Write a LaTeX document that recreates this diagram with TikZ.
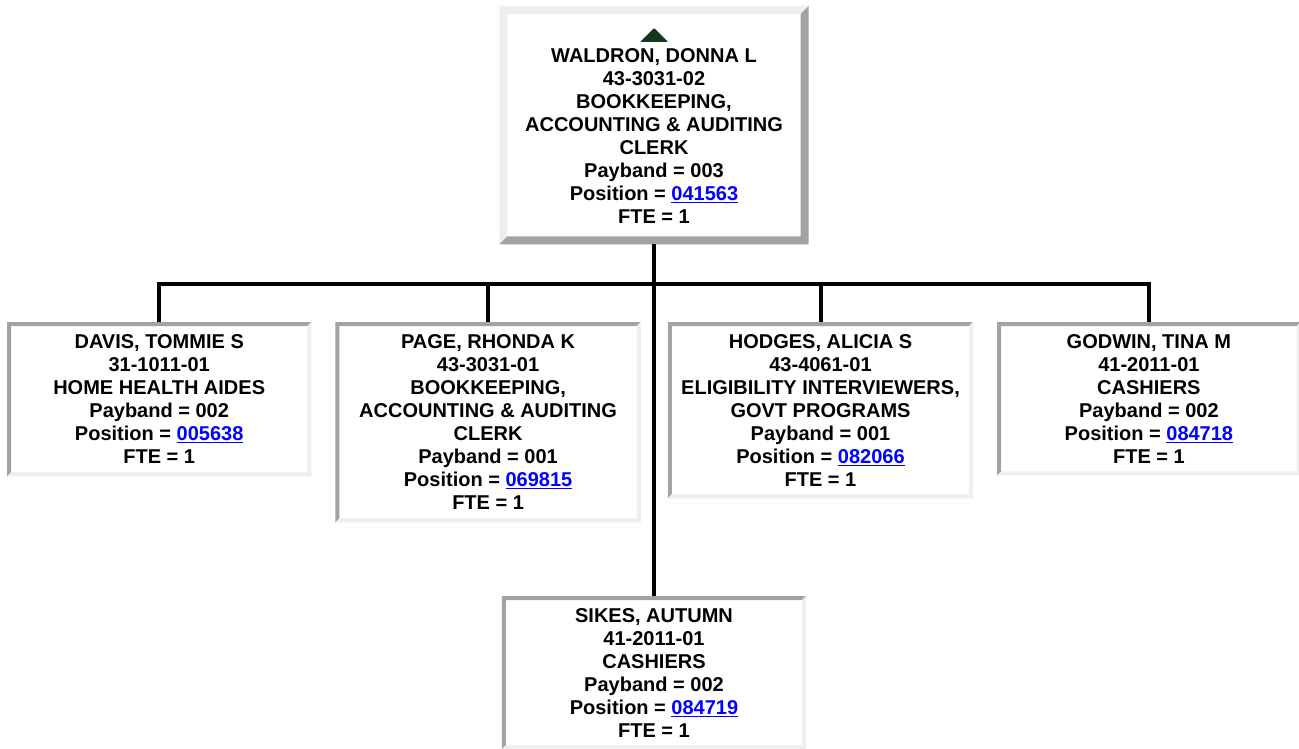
\documentclass[tikz,border=0pt]{standalone}
\usepackage{fontspec}
\setmainfont{Liberation Sans}
\usetikzlibrary{positioning, calc}
\definecolor{bevellight}{HTML}{EEEEEE}
\definecolor{beveldark}{HTML}{A3A3A3}
\definecolor{linkblue}{HTML}{0000FF}
\definecolor{marker}{HTML}{14361A}

% blue underlined position number
\newcommand{\poslink}[1]{\textcolor{linkblue}{\underline{#1}}}
% 3d frame: node, top/left colour, bottom/right colour, width
\newcommand{\bevelframe}[4]{%
  \fill[#2] (#1.south west) -- (#1.north west) -- (#1.north east)
    -- ([xshift=-#4,yshift=-#4]#1.north east) -- ([xshift=#4,yshift=-#4]#1.north west)
    -- ([xshift=#4,yshift=#4]#1.south west) -- cycle;
  \fill[#3] (#1.north east) -- (#1.south east) -- (#1.south west)
    -- ([xshift=#4,yshift=#4]#1.south west) -- ([xshift=-#4,yshift=#4]#1.south east)
    -- ([xshift=-#4,yshift=-#4]#1.north east) -- cycle;
}

\begin{document}
\begin{tikzpicture}[
    x=1pt, y=-1pt,
    font=\fontsize{20}{23}\selectfont\bfseries,
    orgbox/.style={
        fill=white, inner sep=0pt, align=center,
        minimum width=304pt, minimum height=154pt
    },
    topbox/.style={orgbox, minimum width=309pt, minimum height=238pt},
    orgline/.style={line width=4pt, black},
]

\useasboundingbox[fill=white] (0,0) rectangle (1299,749);

% === Supervisor ===
\node[topbox, anchor=north] (waldron) at (654,6) {\rule{0pt}{12pt}\\
    WALDRON, DONNA L\\ 43-3031-02\\ BOOKKEEPING,\\ ACCOUNTING \& AUDITING\\ CLERK\\
    Payband = 003\\ Position = \poslink{041563}\\ FTE = 1};
\bevelframe{waldron}{bevellight}{beveldark}{8pt}
\fill[marker, rounded corners=1pt] ([yshift=-22pt]waldron.north) -- ++(14,14) -- ++(-28,0) -- cycle;

% === Direct reports ===
\node[orgbox, anchor=north west] (davis) at (7,322) {DAVIS, TOMMIE S\\ 31-1011-01\\
    HOME HEALTH AIDES\\ Payband = 002\\ Position = \poslink{005638}\\ FTE = 1};
\node[orgbox, right=24pt of davis.north east, anchor=north west,
      minimum width=305pt, minimum height=200pt] (page) {PAGE, RHONDA K\\ 43-3031-01\\
    BOOKKEEPING,\\ ACCOUNTING \& AUDITING\\ CLERK\\ Payband = 001\\
    Position = \poslink{069815}\\ FTE = 1};
\node[orgbox, right=27pt of page.north east, anchor=north west,
      minimum width=305pt, minimum height=176pt] (hodges) {HODGES, ALICIA S\\ 43-4061-01\\
    ELIGIBILITY INTERVIEWERS,\\ GOVT PROGRAMS\\ Payband = 001\\
    Position = \poslink{082066}\\ FTE = 1};
\node[orgbox, right=24pt of hodges.north east, anchor=north west,
      minimum width=303pt, minimum height=153pt] (godwin) {GODWIN, TINA M\\ 41-2011-01\\
    CASHIERS\\ Payband = 002\\ Position = \poslink{084718}\\ FTE = 1};
\node[orgbox, anchor=north, minimum height=153pt] (sikes) at (654,596) {SIKES, AUTUMN\\
    41-2011-01\\ CASHIERS\\ Payband = 002\\ Position = \poslink{084719}\\ FTE = 1};

\foreach \kid in {davis,page,hodges,godwin,sikes}
    \bevelframe{\kid}{beveldark}{bevellight}{4pt};

% === Connectors ===
\coordinate (bus) at (654,284);
\draw[orgline] (waldron.south) -- (sikes.north);
\foreach \kid in {davis,page,hodges,godwin}
    \draw[orgline] (bus) -| (\kid.north);

\end{tikzpicture}
\end{document}
